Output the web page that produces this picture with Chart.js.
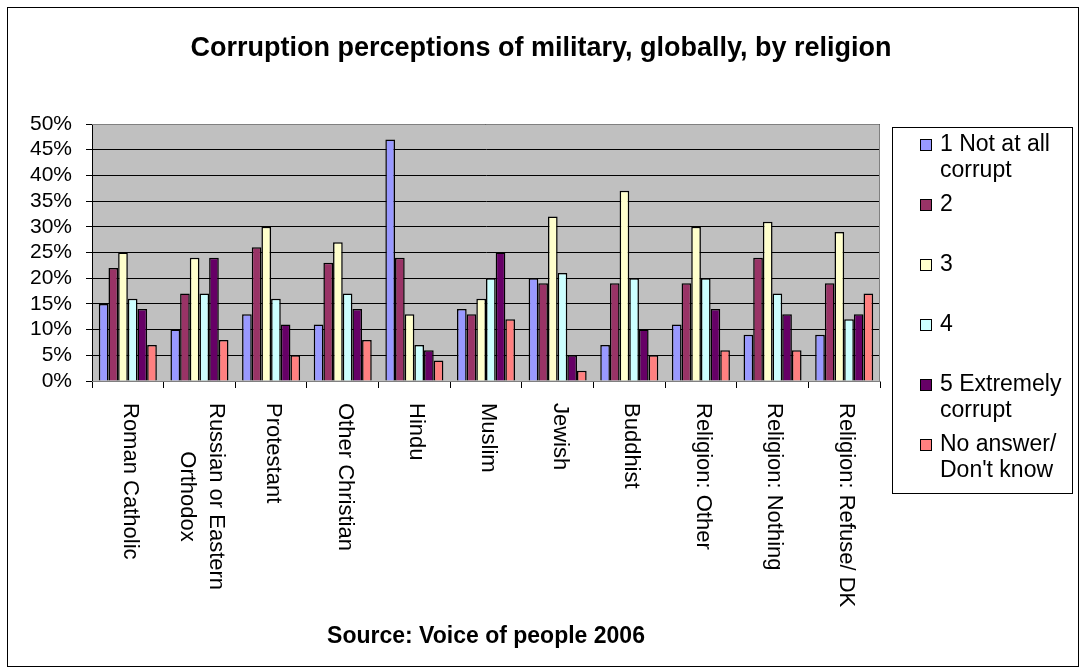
<!DOCTYPE html>
<html>
<head>
<meta charset="utf-8">
<script src="https://cdn.jsdelivr.net/npm/chart.js@4/dist/chart.umd.min.js"></script>
<style>
    html, body { margin: 0; padding: 0; background: #fff; }
    canvas { display: block; }
</style>
</head>
<body>
<canvas id="religionChart" width="1081" height="670"></canvas>
<script>
const categories = [
    "Roman Catholic",
    ["Russian or Eastern", "Orthodox"],
    "Protestant",
    "Other Christian",
    "Hindu",
    "Muslim",
    "Jewish",
    "Buddhist",
    "Religion: Other",
    "Religion: Nothing",
    "Religion: Refuse/ DK"
];

const seriesNames = [
    ["1 Not at all", "corrupt"],
    ["2"],
    ["3"],
    ["4"],
    ["5 Extremely", "corrupt"],
    ["No answer/", "Don't know"]
];
const seriesColors = ["#9999ff", "#993366", "#ffffcc", "#ccffff", "#660066", "#ff8080"];

// percent of respondents
const notAtAll   = [15, 10, 13, 11, 47, 14, 20,  7, 11,  9,  9];
const two        = [22, 17, 26, 23, 24, 13, 19, 19, 19, 24, 19];
const three      = [25, 24, 30, 27, 13, 16, 32, 37, 30, 31, 29];
const four       = [16, 17, 16, 17,  7, 20, 21, 20, 20, 17, 12];
const extremely  = [14, 24, 11, 14,  6, 25,  5, 10, 14, 13, 13];
const noAnswer   = [ 7,  8,  5,  8,  4, 12,  2,  5,  6,  6, 17];

const yMax = 50;
const yStep = 5;

const chartTitle = "Corruption perceptions of military, globally, by religion";
const sourceNote = "Source: Voice of people 2006";

const FONT = "'Liberation Sans', Arial, Helvetica, sans-serif";
Chart.defaults.color = "#000";
Chart.defaults.font.family = FONT;

const seriesValues = [notAtAll, two, three, four, extremely, noAnswer];

const excelLook = {
    id: "excelLook",
    beforeDraw(chart) {
        const ctx = chart.ctx;
        const a = chart.chartArea;
        ctx.save();
        ctx.fillStyle = "#fff";
        ctx.fillRect(0, 0, chart.width, chart.height);
        ctx.fillStyle = "#c0c0c0";
        ctx.fillRect(a.left, a.top, a.right - a.left, a.bottom - a.top);
        ctx.restore();
    },
    afterDatasetsDraw(chart) {
        const ctx = chart.ctx;
        const a = chart.chartArea;
        ctx.save();
        ctx.strokeStyle = "#808080";
        ctx.lineWidth = 1;
        ctx.beginPath();
        ctx.moveTo(a.left, a.top + 0.5);
        ctx.lineTo(a.right - 0.5, a.top + 0.5);
        ctx.lineTo(a.right - 0.5, a.bottom + 0.5);
        ctx.lineTo(a.left, a.bottom + 0.5);
        ctx.stroke();
        ctx.restore();
    },
    afterDraw(chart) {
        const ctx = chart.ctx;
        const xs = chart.scales.x;
        ctx.save();

        // title, centred on the whole picture
        ctx.fillStyle = "#000";
        ctx.font = "bold 27px " + FONT;
        ctx.textAlign = "center";
        ctx.textBaseline = "middle";
        ctx.fillText(chartTitle, 541, 49);

        // rotated category labels, read top to bottom
        ctx.font = "22px " + FONT;
        categories.forEach((cat, i) => {
            const lines = Array.isArray(cat) ? cat : [cat];
            const cx = xs.getPixelForTick(i) + 2;
            const maxW = Math.max(...lines.map(l => ctx.measureText(l).width));
            ctx.save();
            ctx.translate(cx, xs.top + 22);
            ctx.rotate(Math.PI / 2);
            lines.forEach((l, j) => {
                ctx.fillText(l, maxW / 2, (j - (lines.length - 1) / 2) * 29);
            });
            ctx.restore();
        });

        // legend box
        ctx.fillStyle = "#fff";
        ctx.fillRect(892, 127, 181, 367);
        ctx.strokeStyle = "#000";
        ctx.lineWidth = 1;
        ctx.strokeRect(892.5, 127.5, 180, 366);
        ctx.font = "23px " + FONT;
        ctx.textAlign = "left";
        seriesNames.forEach((lines, i) => {
            const y = 145 + 60 * i;
            ctx.fillStyle = seriesColors[i];
            ctx.fillRect(920, y - 6, 12, 12);
            ctx.strokeRect(920.5, y - 5.5, 11, 11);
            ctx.fillStyle = "#000";
            lines.forEach((l, j) => ctx.fillText(l, 940, y + 26 * j));
        });

        // outer frame
        ctx.strokeRect(7.5, 7.5, 1071, 659);
        ctx.restore();
    }
};

new Chart("religionChart", {
    type: "bar",
    data: {
        labels: categories,
        datasets: seriesValues.map((vals, i) => ({
            label: seriesNames[i].join(" "),
            data: vals,
            backgroundColor: seriesColors[i],
            borderColor: "#000",
            borderWidth: 1.5,
            categoryPercentage: 0.81,
            barPercentage: 1.0
        }))
    },
    options: {
        responsive: false,
        animation: false,
        devicePixelRatio: 1,
        layout: { padding: { top: 124, left: 0, right: 201, bottom: 0 } },
        plugins: {
            legend: { display: false },
            tooltip: { enabled: false },
            title: { display: false }
        },
        scales: {
            x: {
                afterFit(scale) { scale.height = 289; },
                ticks: { display: false },
                grid: {
                    drawOnChartArea: false,
                    drawTicks: true,
                    tickLength: 7,
                    tickColor: "#000"
                },
                border: { color: "#808080" },
                title: {
                    display: true,
                    text: sourceNote,
                    color: "#000",
                    font: { size: 23, weight: "bold" },
                    padding: { top: 0, bottom: 20 }
                }
            },
            y: {
                min: 0,
                max: yMax,
                afterFit(scale) { scale.width = 92; },
                ticks: {
                    stepSize: yStep,
                    autoSkip: false,
                    padding: 14,
                    color: "#000",
                    font: { size: 21 },
                    callback: v => v + "%"
                },
                grid: {
                    color: "#000",
                    tickColor: "#000",
                    tickLength: 6
                },
                border: { color: "#000" }
            }
        }
    },
    plugins: [excelLook]
});
</script>
</body>
</html>
